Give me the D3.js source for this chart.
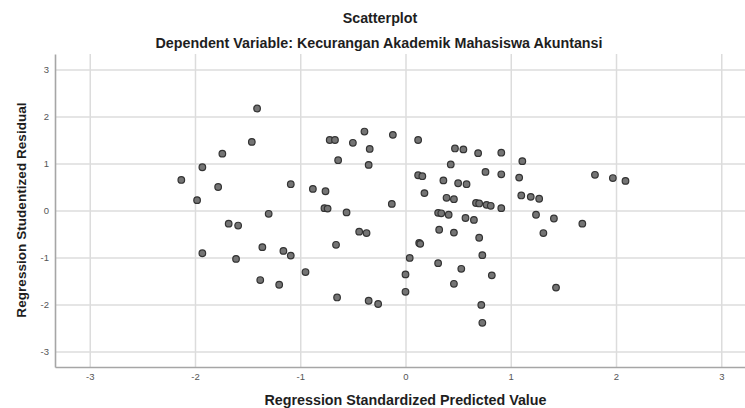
<!DOCTYPE html>
<html>
<head>
<meta charset="utf-8">
<script src="https://cdn.jsdelivr.net/npm/d3@7"></script>
<style>
  body { margin: 0; background: #fff; }
  svg { display: block; font-family: "Liberation Sans", Arial, sans-serif; }
</style>
</head>
<body>
<svg id="chart" width="745" height="408"></svg>
<script>
// standardized predicted value (x) and studentized residual (y)
const predicted = [-2.13,-1.93,-1.74,-1.78,-1.98,-1.68,-1.59,-1.93,-1.61,-1.41,
  -1.46,-1.09,-0.88,-0.76,-1.30,-0.77,-0.74,-0.56,-0.72,-0.67,
  -0.50,-0.39,-0.34,-0.64,-0.35,-0.12,-0.13,0.12,0.47,0.55,
  0.69,0.43,0.76,0.12,0.16,0.36,0.50,0.58,0.18,0.39,
  0.46,0.67,0.70,0.77,0.81,0.31,0.34,0.41,0.57,0.65,
  0.91,1.11,0.91,1.08,1.80,1.97,2.09,1.10,1.19,1.27,
  0.91,1.24,1.41,1.68,1.31,1.43,-0.44,-0.37,-1.36,-1.16,
  -1.09,-0.66,0.13,0.14,0.32,0.46,0.70,0.73,0.04,0.31,
  0.53,0.82,-0.95,-1.38,-1.20,0.00,0.46,0.00,-0.65,-0.35,
  -0.26,0.72,0.73];
const residual = [0.65,0.92,1.21,0.50,0.22,-0.28,-0.32,-0.91,-1.03,2.17,
  1.46,0.56,0.46,0.41,-0.07,0.05,0.04,-0.04,1.50,1.50,
  1.44,1.68,1.31,1.07,0.97,1.61,0.14,1.50,1.32,1.30,
  1.22,0.98,0.82,0.75,0.73,0.64,0.58,0.56,0.37,0.27,
  0.24,0.16,0.15,0.12,0.10,-0.05,-0.06,-0.09,-0.16,-0.20,
  1.23,1.05,0.77,0.70,0.76,0.69,0.63,0.32,0.29,0.25,
  0.05,-0.09,-0.17,-0.28,-0.48,-1.64,-0.45,-0.48,-0.78,-0.86,
  -0.96,-0.73,-0.69,-0.71,-0.41,-0.47,-0.58,-0.95,-1.01,-1.12,
  -1.24,-1.38,-1.31,-1.48,-1.58,-1.36,-1.56,-1.73,-1.85,-1.92,
  -1.99,-2.01,-2.39];
const tickValues = [-3, -2, -1, 0, 1, 2, 3];

const title = "Scatterplot";
const subtitle = "Dependent Variable: Kecurangan Akademik Mahasiswa Akuntansi";
const xLabel = "Regression Standardized Predicted Value";
const yLabel = "Regression Studentized Residual";

(function () {
  const points = predicted.map((p, i) => ({ x: p, y: residual[i] }));

  const plotLeft = 55, plotTop = 54, plotRight = 756, plotBottom = 367;

  const x = d3.scaleLinear().domain([-3.33, 3.33]).range([plotLeft, plotRight]);
  const y = d3.scaleLinear().domain([-3.33, 3.33]).range([plotBottom, plotTop]);

  const svg = d3.select("#chart");

  //grid
  svg.append("g")
    .attr("transform", `translate(0,${plotBottom})`)
    .call(d3.axisBottom(x).tickValues(tickValues).tickSize(-(plotBottom - plotTop)).tickFormat(""))
    .call(g => g.select(".domain").remove())
    .call(g => g.selectAll("line").attr("stroke", "#dcdcdc").attr("stroke-width", 1.5));

  svg.append("g")
    .attr("transform", `translate(${plotLeft},0)`)
    .call(d3.axisLeft(y).tickValues(tickValues).tickSize(-(plotRight - plotLeft)).tickFormat(""))
    .call(g => g.select(".domain").remove())
    .call(g => g.selectAll("line").attr("stroke", "#dcdcdc").attr("stroke-width", 1.5));

  //axes
  svg.append("g")
    .attr("transform", `translate(0,${plotBottom})`)
    .call(d3.axisBottom(x).tickValues(tickValues).tickSize(0).tickPadding(6).tickFormat(d => String(d)))
    .call(g => g.select(".domain").attr("stroke", "#a6a6a6").attr("stroke-width", 1.6))
    .call(g => g.selectAll("text").attr("fill", "#555").attr("font-size", "9.5px").attr("font-family", "Liberation Sans, Arial, sans-serif"));

  svg.append("g")
    .attr("transform", `translate(${plotLeft},0)`)
    .call(d3.axisLeft(y).tickValues(tickValues).tickSize(0).tickPadding(6).tickFormat(d => String(d)))
    .call(g => g.select(".domain").attr("stroke", "#a6a6a6").attr("stroke-width", 1.6))
    .call(g => g.selectAll("text").attr("fill", "#555").attr("font-size", "9.5px").attr("font-family", "Liberation Sans, Arial, sans-serif"));

  //points
  svg.append("g")
    .selectAll("circle")
    .data(points)
    .join("circle")
    .attr("cx", d => x(d.x))
    .attr("cy", d => y(d.y))
    .attr("r", 3.3)
    .attr("fill", "#747474")
    .attr("stroke", "#333")
    .attr("stroke-width", 1.2);

  //titles
  svg.append("text")
    .attr("x", 380).attr("y", 23)
    .attr("text-anchor", "middle")
    .attr("font-size", "14.3px").attr("font-weight", "bold").attr("fill", "#1e1e1e")
    .text(title);

  svg.append("text")
    .attr("x", 379).attr("y", 47.5)
    .attr("text-anchor", "middle")
    .attr("font-size", "14.3px").attr("font-weight", "bold").attr("fill", "#1e1e1e")
    .text(subtitle);

  svg.append("text")
    .attr("x", 405.5).attr("y", 404.5)
    .attr("text-anchor", "middle")
    .attr("font-size", "14.3px").attr("font-weight", "bold").attr("fill", "#1e1e1e")
    .text(xLabel);

  svg.append("text")
    .attr("transform", "translate(26,210) rotate(-90)")
    .attr("text-anchor", "middle")
    .attr("font-size", "13.6px").attr("font-weight", "bold").attr("fill", "#1e1e1e")
    .text(yLabel);
})();
</script>
</body>
</html>
